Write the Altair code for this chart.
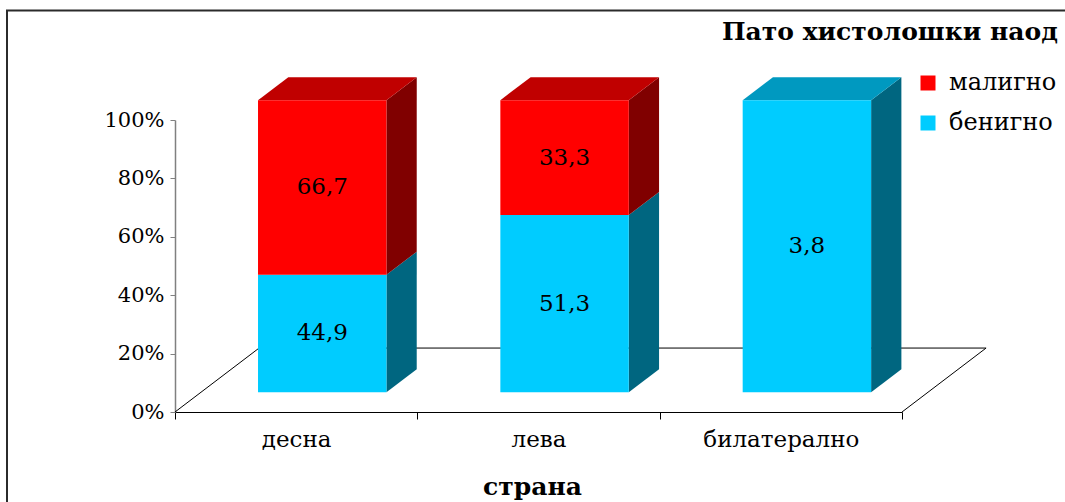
import json

import altair as alt
import pandas as pd

# Source values
categories = ["десна", "лева", "билатерално"]
benign = [44.9, 51.3, 3.8]
malignant = [66.7, 33.3, 0.0]
findings = ["бенигно", "малигно"]
legend_order = ["малигно", "бенигно"]
title_text = "Пато хистолошки наод"
y_ticks = [0, 20, 40, 60, 80, 100]

# Perspective geometry, expressed in data units
FLOOR_DX, FLOOR_DY = 0.347, 21.9      # depth vector of the floor
T_FRONT, T_BACK = 0.31, 0.67          # depth of bar front / back faces
BAR_W = 0.53                          # bar width in category units

front_rows, side_rows, top_rows, label_rows = [], [], [], []
for i, cat in enumerate(categories):
    vals = {"бенигно": benign[i], "малигно": malignant[i]}
    total = sum(vals.values())
    xl = i + 0.5 - BAR_W / 2 + T_FRONT * FLOOR_DX
    xr = xl + BAR_W
    ddx = (T_BACK - T_FRONT) * FLOOR_DX
    yf = T_FRONT * FLOOR_DY
    yb = T_BACK * FLOOR_DY
    lo = 0.0
    top_finding = None
    for f in findings:
        v = vals[f]
        hi = lo + v / total * 100
        if v > 0:
            face = f"{cat}-{f}"
            front_rows.append(dict(finding=f, x=xl, x2=xr, y=lo + yf, y2=hi + yf))
            side_rows += [
                dict(face=face, finding=f, x=xr, y=lo + yf, y2=hi + yf),
                dict(face=face, finding=f, x=xr + ddx, y=lo + yb, y2=hi + yb),
            ]
            label_rows.append(dict(x=(xl + xr) / 2, y=(lo + hi) / 2 + yf,
                                   text=f"{v:.1f}".replace(".", ",")))
            top_finding = f
        lo = hi
    top_rows += [
        dict(face=cat, finding=top_finding, y=lo + yf, x=xl, x2=xr),
        dict(face=cat, finding=top_finding, y=lo + yb, x=xl + ddx, x2=xr + ddx),
    ]

n = len(categories)
floor_df = pd.DataFrame({
    "o": [0, 1, 2, 3],
    "x": [0, FLOOR_DX, n + FLOOR_DX, n],
    "y": [0, FLOOR_DY, FLOOR_DY, 0],
})

FONT = "DejaVu Serif"
xs = alt.Scale(domain=[0, n], nice=False, zero=False)
ys = alt.Scale(domain=[0, 100], nice=False)

cat_js = json.dumps(categories, ensure_ascii=False)
x_axis = alt.Axis(
    values=[k / 2 for k in range(2 * n + 1)],
    labelExpr=f"datum.value % 1 == 0 ? '' : {cat_js}[floor(datum.value)]",
    tickOpacity={"condition": {"test": "datum.value % 1 != 0", "value": 0}, "value": 1},
    labelOverlap=False,
    grid=False,
    domainColor="black",
    tickColor="black",
    tickSize=7,
    labelFont=FONT,
    labelFontSize=23,
    labelColor="black",
    labelPadding=9,
    title="страна",
    titleFont=FONT,
    titleFontSize=25,
    titleFontWeight="bold",
    titleColor="black",
    titlePadding=23,
    titleX=357,
)
y_axis = alt.Axis(
    values=y_ticks,
    labelExpr="datum.value + '%'",
    title=None,
    grid=False,
    domainColor="#808080",
    domainWidth=1.5,
    tickColor="#808080",
    tickSize=5,
    labelFont=FONT,
    labelFontSize=21,
    labelColor="black",
    labelPadding=6,
)


def X(field="x"):
    return alt.X(f"{field}:Q", scale=xs, axis=x_axis)


def Y(field="y"):
    return alt.Y(f"{field}:Q", scale=ys, axis=y_axis, stack=None)


frame = alt.Chart(pd.DataFrame({"k": [0]})).mark_rect(
    filled=False, stroke="#2b2b2b", strokeWidth=2
).encode(x=alt.value(-168), y=alt.value(-109.5), x2=alt.value(1200), y2=alt.value(600))

floor = alt.Chart(floor_df).mark_line(color="black", strokeWidth=1).encode(
    x=X(), y=Y(), order="o:Q"
)

front = alt.Chart(pd.DataFrame(front_rows)).mark_rect().encode(
    x=X(), x2="x2", y=Y(), y2="y2",
    color=alt.Color(
        "finding:N",
        scale=alt.Scale(domain=legend_order, range=["#FF0000", "#00CCFF"]),
        legend=alt.Legend(
            orient="none", legendX=741, legendY=-49, title=None,
            symbolType="square", symbolSize=225, symbolStrokeWidth=0,
            labelFont=FONT, labelFontSize=24, labelColor="black",
            labelOffset=9, rowPadding=16,
        ),
    ),
)

side = alt.Chart(pd.DataFrame(side_rows)).mark_area(strokeWidth=0).encode(
    x=X(), y=Y(), y2="y2", detail="face:N",
    color=alt.Color(
        "finding:N",
        scale=alt.Scale(domain=legend_order, range=["#800000", "#006680"]),
        legend=None,
    ),
)

top = alt.Chart(pd.DataFrame(top_rows)).mark_area(orient="horizontal", strokeWidth=0).encode(
    y=Y(), x=X(), x2="x2", detail="face:N",
    color=alt.Color(
        "finding:N",
        scale=alt.Scale(domain=legend_order, range=["#C00000", "#0099C0"]),
        legend=None,
    ),
)

labels = alt.Chart(pd.DataFrame(label_rows)).mark_text(
    font=FONT, fontSize=23, color="black", baseline="middle", align="center"
).encode(x=X(), y=Y(), text="text:N")

title = alt.Chart(pd.DataFrame({"t": [title_text]})).mark_text(
    font=FONT, fontSize=25, fontWeight="bold", color="black",
    align="left", baseline="alphabetic",
).encode(x=alt.value(547), y=alt.value(-80), text="t:N")

chart = (
    alt.layer(frame, floor, side, top, front, labels, title)
    .resolve_scale(color="independent")
    .properties(
        width=727,
        height=292,
        autosize=alt.AutoSizeParams(type="none"),
        padding={"left": 175, "top": 120, "right": 163, "bottom": 90},
        background="white",
    )
    .configure_view(stroke=None)
)

chart.save("out.html", embed_options={"renderer": "svg", "actions": False})
